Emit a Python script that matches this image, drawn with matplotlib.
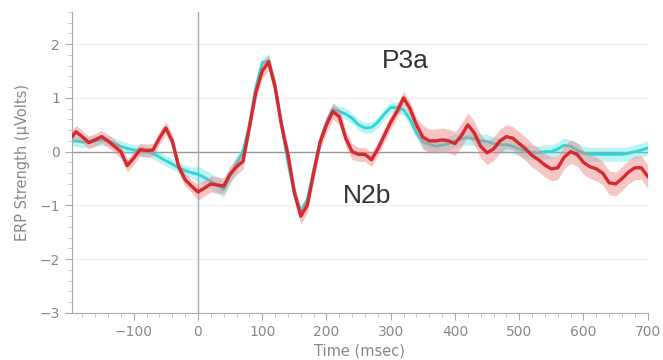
import numpy as np
import matplotlib.pyplot as plt
from matplotlib.ticker import MultipleLocator

# time axis (msec)
times = [-196, -190, -180, -170, -160, -150, -140, -130, -120, -110,
         -100, -90, -80, -70, -60, -50, -40, -30, -20, -10,
         0, 10, 20, 30, 40, 50, 60, 70, 80, 90,
         100, 110, 120, 130, 140, 150, 160, 170, 180, 190,
         200, 210, 220, 230, 240, 250, 260, 270, 280, 290,
         300, 310, 320, 330, 340, 350, 360, 370, 380, 390,
         400, 410, 420, 430, 440, 450, 460, 470, 480, 490,
         500, 510, 520, 530, 540, 550, 560, 570, 580, 590,
         600, 610, 620, 630, 640, 650, 660, 670, 680, 690,
         700]

# red condition (deviant)
red_erp = [0.28, 0.37, 0.28, 0.17, 0.22, 0.28, 0.20, 0.10, 0.00, -0.26,
           -0.12, 0.04, 0.02, 0.03, 0.25, 0.44, 0.20, -0.28, -0.52, -0.64,
           -0.75, -0.68, -0.60, -0.62, -0.64, -0.42, -0.28, -0.18, 0.45, 1.10,
           1.50, 1.67, 1.20, 0.50, -0.05, -0.75, -1.20, -1.00, -0.40, 0.17,
           0.50, 0.75, 0.65, 0.25, 0.00, -0.05, -0.05, -0.15, 0.05, 0.30,
           0.55, 0.75, 1.00, 0.80, 0.50, 0.27, 0.20, 0.20, 0.22, 0.20,
           0.15, 0.30, 0.50, 0.35, 0.10, -0.02, 0.05, 0.20, 0.28, 0.25,
           0.15, 0.05, -0.07, -0.15, -0.25, -0.32, -0.30, -0.10, 0.00, -0.05,
           -0.20, -0.28, -0.32, -0.40, -0.58, -0.60, -0.50, -0.38, -0.30, -0.30,
           -0.46]
red_sem = [0.12] * 20 + [0.15] * 7 + [0.15] * 18 + [0.13] * 10 + [0.22] * 36

# cyan condition (standard)
cyan_erp = [0.20, 0.20, 0.18, 0.18, 0.20, 0.22, 0.20, 0.15, 0.10, 0.06,
            0.03, 0.02, 0.00, -0.03, -0.10, -0.17, -0.23, -0.30, -0.35, -0.39,
            -0.42, -0.48, -0.55, -0.62, -0.70, -0.45, -0.22, 0.00, 0.50, 1.20,
            1.65, 1.70, 1.25, 0.50, -0.20, -0.80, -1.10, -0.90, -0.35, 0.20,
            0.55, 0.80, 0.75, 0.70, 0.62, 0.50, 0.44, 0.45, 0.55, 0.70,
            0.82, 0.82, 0.78, 0.60, 0.35, 0.18, 0.14, 0.10, 0.12, 0.15,
            0.20, 0.24, 0.26, 0.24, 0.20, 0.19, 0.15, 0.13, 0.13, 0.10,
            0.05, 0.00, -0.02, -0.02, 0.00, 0.00, 0.05, 0.12, 0.10, 0.03,
            -0.03, -0.05, -0.05, -0.05, -0.05, -0.05, -0.05, -0.03, 0.00, 0.03,
            0.07]
cyan_sem = [0.10] * 20 + [0.15] * 7 + [0.10] * 28 + [0.13] * 36

t = np.array(times)
red = np.array(red_erp)
cyan = np.array(cyan_erp)
rs = np.array(red_sem)
cs = np.array(cyan_sem)

fig = plt.figure(figsize=(6.63, 3.6), dpi=100)
ax = fig.add_axes([0.1086, 0.1306, 0.8684, 0.8364])

ax.grid(axis='y', color='#eeeeee', linewidth=0.8)
ax.set_axisbelow(True)
ax.axhline(0, color='#999999', linewidth=1.0, zorder=1)
ax.axvline(0, color='#aaaaaa', linewidth=1.0, zorder=1)

ax.fill_between(t, cyan - cs, cyan + cs, color='#40e0e0', alpha=0.35, linewidth=0, zorder=2)
ax.plot(t, cyan, color='#2fd6d6', linewidth=2.0, zorder=3)
ax.fill_between(t, red - rs, red + rs, color='#f08080', alpha=0.45, linewidth=0, zorder=4)
ax.plot(t, red, color='#d42a30', linewidth=2.4, zorder=5)

# component labels
ax.text(323, 1.68, 'P3a', fontsize=19, family='Liberation Sans', color='#333333',
        ha='center', va='center')
ax.text(263, -0.83, 'N2b', fontsize=19, family='Liberation Sans', color='#333333',
        ha='center', va='center')

ax.set_xlim(-196, 700)
ax.set_ylim(-3, 2.6)
ax.set_xticks([-100, 0, 100, 200, 300, 400, 500, 600, 700])
ax.set_yticks([-3, -2, -1, 0, 1, 2])
ax.set_yticklabels(['\u22123', '\u22122', '\u22121', '0', '1', '2'])
ax.xaxis.set_minor_locator(MultipleLocator(20))
ax.yaxis.set_minor_locator(MultipleLocator(0.2))
ax.tick_params(which='major', length=5, color='#aaaaaa', labelcolor='#888888', labelsize=10)
ax.tick_params(which='minor', length=3, color='#bbbbbb')

for side in ['top', 'right']:
    ax.spines[side].set_visible(False)
for side in ['left', 'bottom']:
    ax.spines[side].set_color('#aaaaaa')

ax.set_xlabel('Time (msec)', fontsize=10.5, color='#888888', labelpad=3.5)
ax.set_ylabel('ERP Strength (\u00b5Volts)', fontsize=10.5, color='#888888', labelpad=7)

fig.savefig('out.png', dpi=100)
